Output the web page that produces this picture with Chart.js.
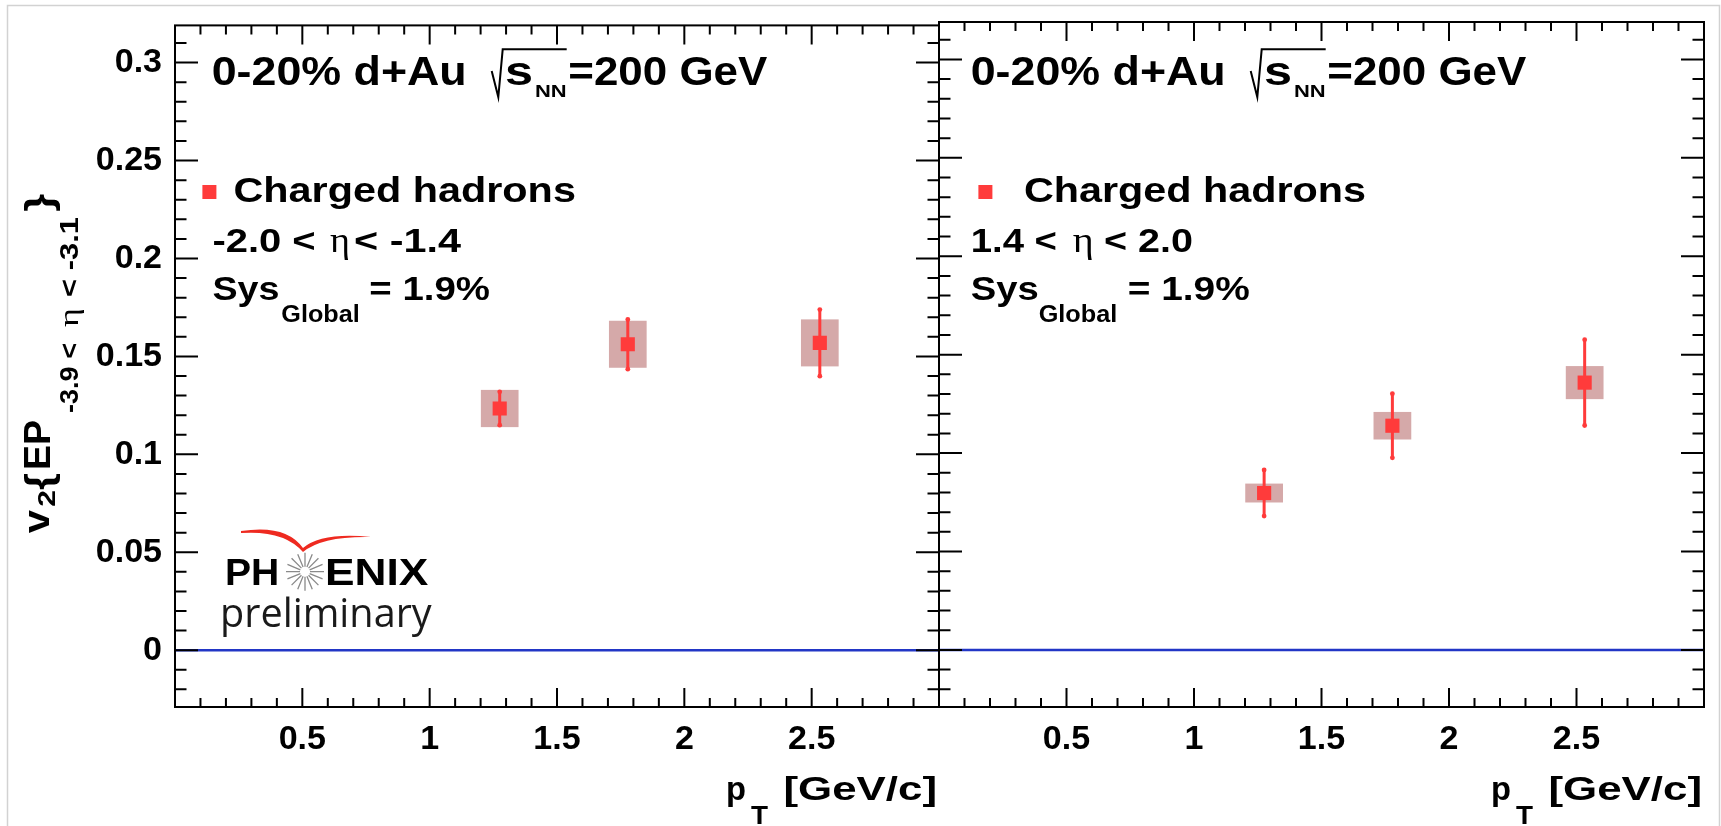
<!DOCTYPE html>
<html>
<head>
<meta charset="utf-8">
<title>v2 charged hadrons d+Au</title>
<script src="https://cdn.jsdelivr.net/npm/chart.js@4.4.1/dist/chart.umd.min.js"></script>
<style>
  html, body { margin: 0; padding: 0; background: #fff; }
  #wrap { position: relative; width: 1721px; height: 826px; overflow: hidden; }
  #wrap canvas { position: absolute; left: 0; top: 0; }
</style>
</head>
<body>
<div id="wrap">
  <canvas id="leftPanel" width="1721" height="826"></canvas>
  <canvas id="rightPanel" width="1721" height="826"></canvas>
</div>
<script>
// pT bin centres (GeV/c), same for both panels
const ptValues = [1.275, 1.778, 2.532];

// backward side, -2.0 < eta < -1.4
const v2Backward = [0.1234, 0.1562, 0.1569];
const statBackward = [0.0085, 0.0127, 0.0170];
const sysBackward = [0.0095, 0.0120, 0.0120];

// forward side, 1.4 < eta < 2.0
const v2Forward = [0.0797, 0.1139, 0.1358];
const statForward = [0.0117, 0.0163, 0.0218];
const sysForward = [0.0048, 0.0070, 0.0084];

const xTickValues = [0.5, 1, 1.5, 2, 2.5];
const xTickLabels = ['0.5', '1', '1.5', '2', '2.5'];
const yTickValues = [0, 0.05, 0.1, 0.15, 0.2, 0.25, 0.3];
const yTickLabels = ['0', '0.05', '0.1', '0.15', '0.2', '0.25', '0.3'];

const X_MIN = 0, X_MAX = 3;
const Y_MIN = -0.029, Y_MAX = 0.319;

const FONT = '"Liberation Sans", Arial, Helvetica, sans-serif';
const SERIF = '"Liberation Serif", "DejaVu Serif", serif';
const RED = '#ff3b3b';
const SYS_FILL = '#d5a9a9';
const ZERO_BLUE = '#2236c6';
const SYS_HALF_WIDTH = 0.074; // half width of systematic boxes in pT

function bold(px) { return 'bold ' + px + 'px ' + FONT; }
function serif(px) { return px + 'px ' + SERIF; }

// draw one piece of text, squeezed/stretched to a given width
function drawSeg(ctx, text, font, x, y, w, rot, color) {
    ctx.save();
    ctx.font = font;
    ctx.fillStyle = color || '#000';
    ctx.textBaseline = 'alphabetic';
    ctx.textAlign = 'left';
    ctx.translate(x, y);
    if (rot) ctx.rotate(rot);
    const m = ctx.measureText(text).width;
    ctx.scale(w ? w / m : 1, 1);
    ctx.fillText(text, 0, 0);
    ctx.restore();
}

function drawSqrt(ctx, x, y) {
    ctx.save();
    ctx.strokeStyle = '#000';
    ctx.lineWidth = 2;
    ctx.beginPath();
    ctx.moveTo(x, y - 14);
    ctx.lineTo(x + 6.6, y + 12);
    ctx.lineTo(x + 11, y - 35.7);
    ctx.lineTo(x + 75, y - 35.7);
    ctx.stroke();
    ctx.restore();
}

function drawPhenix(ctx) {
    ctx.save();
    // red swoosh, a thin crescent
    ctx.fillStyle = '#ee2a20';
    ctx.beginPath();
    ctx.moveTo(241, 531);
    ctx.quadraticCurveTo(286, 524, 303, 548);
    ctx.quadraticCurveTo(322, 532, 371, 537);
    ctx.quadraticCurveTo(322, 536, 303, 552);
    ctx.quadraticCurveTo(284, 530, 241, 533);
    ctx.closePath();
    ctx.fill();

    ctx.strokeStyle = '#8a8a8a';
    ctx.lineWidth = 1.3;
    ctx.beginPath();
    for (let k = 0; k < 16; k++) {
        const a = k * Math.PI / 8;
        ctx.moveTo(305 + 5 * Math.cos(a), 571.7 + 5 * Math.sin(a));
        ctx.lineTo(305 + 19 * Math.cos(a), 571.7 + 19 * Math.sin(a));
    }
    ctx.stroke();
    ctx.restore();

    drawSeg(ctx, 'PH', bold(36), 225, 585, 54.3);
    drawSeg(ctx, 'ENIX', bold(36), 325, 585, 103.3);
    drawSeg(ctx, 'preliminary', '40px "Open Sans", "DejaVu Sans", sans-serif', 220, 626.7, 211.7, 0, '#1a1a1a');
}

function drawYTitle(ctx) {
    const r = -Math.PI / 2;
    drawSeg(ctx, 'v', bold(36), 48.5, 533.3, 23.3, r);
    drawSeg(ctx, '2', bold(24), 55, 506.7, 16.7, r);
    drawSeg(ctx, '{', bold(38), 52, 490, 17, r);
    drawSeg(ctx, 'EP', bold(36), 50, 470, 50, r);
    drawSeg(ctx, '-3.9 <', bold(26), 78, 413, 70, r);
    drawSeg(ctx, 'η', serif(28), 78, 327, 19, r);
    drawSeg(ctx, '< -3.1', bold(26), 78, 297, 80, r);
    drawSeg(ctx, '}', bold(38), 52, 211.7, 18, r);
}

function drawXTitle(ctx, right) {
    drawSeg(ctx, 'p', bold(33), right - 213, 800, 20);
    drawSeg(ctx, 'T', bold(25), right - 188, 824, 17);
    drawSeg(ctx, '[GeV/c]', bold(33), right - 155.5, 800, 153.5);
}

function drawFrameAndTicks(ctx, area, xs, ys) {
    ctx.save();
    ctx.strokeStyle = '#000';
    ctx.lineWidth = 2;
    ctx.beginPath();
    for (let k = -2; k <= 31; k++) {
        const py = ys.getPixelForValue(k / 100);
        const len = (k % 5 === 0) ? 23 : 11.5;
        ctx.moveTo(area.left, py); ctx.lineTo(area.left + len, py);
        ctx.moveTo(area.right, py); ctx.lineTo(area.right - len, py);
    }
    for (let k = 1; k <= 29; k++) {
        const px = xs.getPixelForValue(k / 10);
        const len = (k % 5 === 0) ? 19 : 9;
        ctx.moveTo(px, area.bottom); ctx.lineTo(px, area.bottom - len);
        ctx.moveTo(px, area.top); ctx.lineTo(px, area.top + len);
    }
    ctx.stroke();
    ctx.strokeRect(area.left, area.top, area.right - area.left, area.bottom - area.top);
    ctx.restore();
}

function panelPlugin(panel) {
    return {
        id: 'panelDecor',
        beforeDatasetsDraw(chart) {
            const ctx = chart.ctx, xs = chart.scales.x, ys = chart.scales.y;
            ctx.save();
            // systematic boxes
            ctx.fillStyle = SYS_FILL;
            for (let i = 0; i < ptValues.length; i++) {
                const x0 = xs.getPixelForValue(ptValues[i] - SYS_HALF_WIDTH);
                const x1 = xs.getPixelForValue(ptValues[i] + SYS_HALF_WIDTH);
                const y0 = ys.getPixelForValue(panel.v2[i] + panel.sys[i]);
                const y1 = ys.getPixelForValue(panel.v2[i] - panel.sys[i]);
                ctx.fillRect(x0, y0, x1 - x0, y1 - y0);
            }
            // statistical error bars
            ctx.strokeStyle = RED;
            ctx.fillStyle = RED;
            ctx.lineWidth = 3;
            for (let i = 0; i < ptValues.length; i++) {
                const px = xs.getPixelForValue(ptValues[i]);
                const y0 = ys.getPixelForValue(panel.v2[i] + panel.stat[i]);
                const y1 = ys.getPixelForValue(panel.v2[i] - panel.stat[i]);
                ctx.beginPath();
                ctx.moveTo(px, y0); ctx.lineTo(px, y1);
                ctx.stroke();
                ctx.beginPath(); ctx.arc(px, y0, 2.4, 0, Math.PI * 2); ctx.fill();
                ctx.beginPath(); ctx.arc(px, y1, 2.4, 0, Math.PI * 2); ctx.fill();
            }
            ctx.restore();
        },
        afterDatasetsDraw(chart) {
            const ctx = chart.ctx, area = chart.chartArea;
            drawFrameAndTicks(ctx, area, chart.scales.x, chart.scales.y);

            panel.texts.forEach(t => drawSeg(ctx, t[0], t[1], t[2], t[3], t[4]));
            drawSqrt(ctx, panel.sqrtAt[0], panel.sqrtAt[1]);
            ctx.fillStyle = RED;
            ctx.fillRect(panel.legendMarker[0] - 7, panel.legendMarker[1] - 7, 14, 14);
            drawXTitle(ctx, area.right);

            if (panel.showYLabels) {
                drawYTitle(ctx);
                drawPhenix(ctx);
                // light slide border
                ctx.save();
                ctx.strokeStyle = '#d2d2d2';
                ctx.lineWidth = 1.5;
                ctx.beginPath();
                ctx.moveTo(7.5, 830); ctx.lineTo(7.5, 5.5); ctx.lineTo(1719.5, 5.5); ctx.lineTo(1719.5, 830);
                ctx.stroke();
                ctx.restore();
            }
        }
    };
}

const leftPanel = {
    id: 'leftPanel', v2: v2Backward, stat: statBackward, sys: sysBackward,
    padLeft: 0, padRight: 782, yAxisWidth: 175, showYLabels: true,
    sqrtAt: [491.7, 85], legendMarker: [209.4, 192],
    texts: [
        ['0-20% d+Au', bold(40), 211.7, 85, 255],
        ['s', bold(40), 505, 85, 28],
        ['NN', bold(17), 535, 96.7, 31.7],
        ['=200 GeV', bold(40), 568.3, 85, 199],
        ['Charged hadrons', bold(35), 233.4, 201.7, 342.5],
        ['-2.0 <', bold(33), 212.4, 251.7, 103.3],
        ['η', serif(36), 330, 251.7, 20],
        ['< -1.4', bold(33), 354, 251.7, 107],
        ['Sys', bold(33), 212.4, 300, 67],
        ['Global', bold(23), 281.3, 321.7, 78.4],
        ['= 1.9%', bold(33), 369.3, 300, 120.6]
    ]
};

const rightPanel = {
    id: 'rightPanel', v2: v2Forward, stat: statForward, sys: sysForward,
    padLeft: 939, padRight: 17, yAxisWidth: 0, showYLabels: false,
    sqrtAt: [1250.7, 85], legendMarker: [985.4, 192],
    texts: [
        ['0-20% d+Au', bold(40), 970.7, 85, 255],
        ['s', bold(40), 1264, 85, 28],
        ['NN', bold(17), 1294, 96.7, 31.7],
        ['=200 GeV', bold(40), 1327.3, 85, 199],
        ['Charged hadrons', bold(35), 1024, 201.7, 342],
        ['1.4 <', bold(33), 970.7, 251.7, 86.3],
        ['η', serif(36), 1072.8, 251.7, 21],
        ['< 2.0', bold(33), 1104, 251.7, 89],
        ['Sys', bold(33), 970.7, 300, 68],
        ['Global', bold(23), 1038.7, 321.7, 78.6],
        ['= 1.9%', bold(33), 1127.7, 300, 122]
    ]
};

function buildChart(panel) {
    const points = ptValues.map((x, i) => ({ x: x, y: panel.v2[i] }));
    const tickFont = { family: FONT, weight: 'bold', size: 34, lineHeight: 1.2 };
    return new Chart(document.getElementById(panel.id), {
        type: 'scatter',
        data: {
            datasets: [
                {
                    data: points,
                    pointStyle: 'rect',
                    pointRadius: 10,
                    pointBackgroundColor: RED,
                    pointBorderWidth: 0,
                    pointHoverRadius: 10
                },
                {
                    data: [{ x: X_MIN, y: 0 }, { x: X_MAX, y: 0 }],
                    showLine: true,
                    borderColor: ZERO_BLUE,
                    borderWidth: 2.5,
                    pointRadius: 0
                }
            ]
        },
        options: {
            responsive: false,
            animation: false,
            devicePixelRatio: 1,
            layout: { padding: { left: panel.padLeft, right: panel.padRight, top: 22, bottom: 0 } },
            plugins: { legend: { display: false }, tooltip: { enabled: false } },
            events: [],
            scales: {
                x: {
                    type: 'linear', min: X_MIN, max: X_MAX,
                    grid: { display: false }, border: { display: false },
                    afterBuildTicks: s => { s.ticks = xTickValues.map(v => ({ value: v })); },
                    afterFit: s => { s.height = 119; },
                    ticks: {
                        autoSkip: false, maxRotation: 0, minRotation: 0, padding: 4,
                        color: '#000', font: tickFont,
                        callback: (v, i) => xTickLabels[i]
                    }
                },
                y: {
                    type: 'linear', min: Y_MIN, max: Y_MAX,
                    display: panel.showYLabels,
                    grid: { display: false }, border: { display: false },
                    afterBuildTicks: s => { s.ticks = yTickValues.map(v => ({ value: v })); },
                    afterFit: s => { s.width = panel.yAxisWidth; },
                    ticks: {
                        padding: 5, color: '#000', font: tickFont,
                        callback: (v, i) => yTickLabels[i]
                    }
                }
            }
        },
        plugins: [panelPlugin(panel)]
    });
}

buildChart(leftPanel);
buildChart(rightPanel);
</script>
</body>
</html>
